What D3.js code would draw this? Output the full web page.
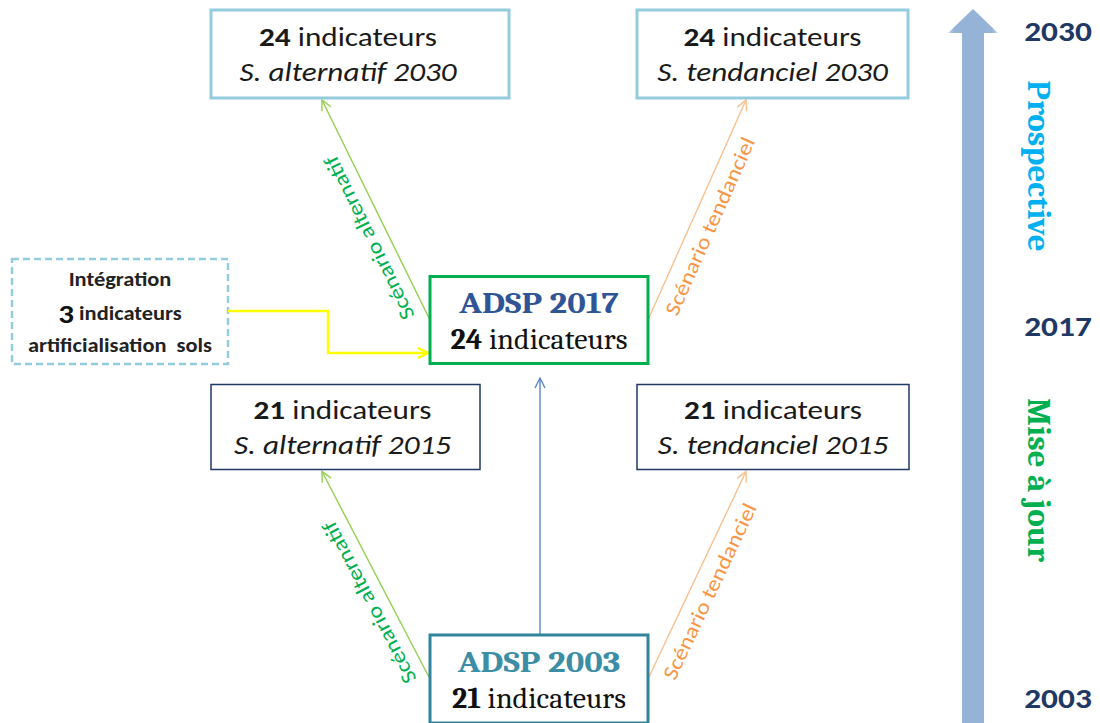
<!DOCTYPE html>
<html>
<head>
<meta charset="utf-8">
<script src="https://cdn.jsdelivr.net/npm/d3@7"></script>
<style>
  body { margin: 0; background: #fff; }
  svg { display: block; }
</style>
</head>
<body>
<div id="container"></div>
<script>
// values
const timelineYears = ["2030", "2017", "2003"]
const phaseLabels = ["Prospective", "Mise à jour"]
const scenarioLabels = ["Scénario alternatif", "Scénario tendanciel"]
const boxIds = ["alt2030", "tend2030", "adsp2017", "alt2015", "tend2015", "adsp2003"]
const boxCounts = [24, 24, 24, 21, 21, 21]
const boxNames = ["S. alternatif 2030", "S. tendanciel 2030", "ADSP 2017", "S. alternatif 2015", "S. tendanciel 2015", "ADSP 2003"]
const addedCount = 3
const addedLines = ["Intégration", "indicateurs", "artificialisation  sols"]

const w = 1100
const h = 723
const sans = "Carlito, Calibri, Lato, 'Open Sans', sans-serif"
const serif = "Cambria, 'Liberation Serif', 'DejaVu Serif', serif"
const stretch = 1.2 // Calibri in the picture runs wider than Lato

const svg = d3.select("#container")
    .append("svg")
    .attr("width", w)
    .attr("height", h)
    .style("background-color", "white")

// text placed at (x, y), optionally rotated, stretched horizontally
function label(parent, x, y, opts = {}) {
    const rot = opts.rotate ? ` rotate(${opts.rotate})` : ""
    const sx = opts.sx || 1
    return parent.append("text")
        .attr("transform", `translate(${x}, ${y})${rot} scale(${sx}, 1)`)
        .attr("text-anchor", "middle")
        .attr("dominant-baseline", "central")
        .style("font-family", opts.family || sans)
        .style("font-size", (opts.size || 20) + "px")
        .style("font-weight", opts.weight || "normal")
        .style("font-style", opts.style || "normal")
        .style("white-space", "pre")
        .attr("fill", opts.fill || "#1a1a1a")
}

// rows of the diagram (stage -> vertical centre)
const rowY = d3.scaleOrdinal()
    .domain(["2030", "2017", "2015", "2003"])
    .range([54, 320, 427, 679])

// layout of each box
const layout = {
    alt2030:  { x0: 211, x1: 509, row: "2030", hh: 44, stroke: "#93cddd", sw: 3, kind: "scen", dx: -12 },
    tend2030: { x0: 637, x1: 908, row: "2030", hh: 44, stroke: "#93cddd", sw: 3, kind: "scen", dx: 0 },
    adsp2017: { x0: 430, x1: 648, row: "2017", hh: 43.5, stroke: "#00b050", sw: 3, kind: "adsp", color: "#2f5597", dx: 0 },
    alt2015:  { x0: 211, x1: 480, row: "2015", hh: 42.5, stroke: "#1f3864", sw: 1.5, kind: "scen", dx: -3 },
    tend2015: { x0: 637, x1: 909, row: "2015", hh: 42.5, stroke: "#1f3864", sw: 1.5, kind: "scen", dx: 0 },
    adsp2003: { x0: 430, x1: 648, row: "2003", hh: 44, stroke: "#31849b", sw: 3, kind: "adsp", color: "#3b8ea5", dx: 0 },
}

const boxes = boxIds.map((id, i) => ({ id, count: boxCounts[i], name: boxNames[i], ...layout[id] }))
const byId = Object.fromEntries(boxes.map((b) => [b.id, b]))

// arrow markers
const defs = svg.append("defs")
const markerColors = { green: "#92d050", orange: "#fac08f", blue: "#5b87c5", yellow: "#ffff00" }
Object.entries(markerColors).forEach(([k, c]) => {
    defs.append("marker")
        .attr("id", "head-" + k)
        .attr("viewBox", "-12 -8 14 16")
        .attr("refX", 0)
        .attr("refY", 0)
        .attr("markerUnits", "userSpaceOnUse")
        .attr("markerWidth", 14)
        .attr("markerHeight", 16)
        .attr("orient", "auto")
        .append("path")
        .attr("d", "M-10,-5 L0,0 L-10,5")
        .attr("fill", "none")
        .attr("stroke", c)
        .attr("stroke-width", k === "yellow" ? 2.5 : 1.4)
})

const grad = defs.append("linearGradient")
    .attr("id", "timeGrad")
    .attr("x1", "0%").attr("x2", "100%")
    .attr("y1", "0%").attr("y2", "0%")
grad.append("stop").attr("offset", "0%").attr("stop-color", "#c9d9ee")
grad.append("stop").attr("offset", "12%").attr("stop-color", "#95b3d7")
grad.append("stop").attr("offset", "88%").attr("stop-color", "#95b3d7")
grad.append("stop").attr("offset", "100%").attr("stop-color", "#c9d9ee")

// timeline arrow on the right
const tx = 973
svg.append("path")
    .attr("d", `M${tx - 11},${h} L${tx - 11},33 L${tx - 25},33 L${tx},9 L${tx + 25},33 L${tx + 11},33 L${tx + 11},${h} Z`)
    .attr("fill", "url(#timeGrad)")

const yearY = d3.scaleOrdinal().domain(timelineYears).range([31, 326, 698])
timelineYears.forEach((d) => {
    label(svg, 1058, yearY(d), { size: 29, weight: "bold", fill: "#1f3864", sx: 1.15 }).text(d)
})

const phaseY = d3.scaleOrdinal().domain(phaseLabels).range([166, 480])
const phaseColor = d3.scaleOrdinal().domain(phaseLabels).range(["#00b0f0", "#00b050"])
phaseLabels.forEach((d) => {
    label(svg, 1039, phaseY(d), { rotate: 90, family: serif, size: 33, weight: "bold", fill: phaseColor(d) }).text(d)
})

// scenario arrows
const scenArrows = [
    { from: "adsp2017", side: "left", to: "alt2030", label: scenarioLabels[0], color: "green" },
    { from: "adsp2017", side: "right", to: "tend2030", label: scenarioLabels[1], color: "orange" },
    { from: "adsp2003", side: "left", to: "alt2015", label: scenarioLabels[0], color: "green" },
    { from: "adsp2003", side: "right", to: "tend2015", label: scenarioLabels[1], color: "orange" },
]
scenArrows.forEach((a) => {
    const src = byId[a.from]
    const dst = byId[a.to]
    const sy = rowY(src.row)
    const sx = a.side === "left" ? src.x0 : src.x1
    const ex = a.side === "left" ? 322 : 746
    const ey = rowY(dst.row) + dst.hh + 2
    svg.append("line")
        .attr("x1", sx).attr("y1", sy)
        .attr("x2", ex).attr("y2", ey)
        .attr("stroke", markerColors[a.color])
        .attr("stroke-width", 1.4)
        .attr("marker-end", `url(#head-${a.color})`)

    const dx = ex - sx
    const dy = ey - sy
    const len = Math.hypot(dx, dy)
    const ux = dx / len
    const uy = dy / len
    const t = a.side === "left" ? 0.41 : 0.46
    const off = a.side === "left" ? 19 : 18
    // perpendicular, pointing away from the central boxes
    const px = a.side === "left" ? uy : -uy
    const py = a.side === "left" ? -ux : ux
    const cx = sx + dx * t + px * off
    const cy = sy + dy * t + py * off
    const ang = Math.atan2(dy, dx) * 180 / Math.PI
    label(svg, cx, cy, {
        rotate: ang, size: 21, sx: 1.15,
        fill: a.color === "green" ? "#00b050" : "#f79646",
    }).text(a.label)
})

// update arrow 2003 -> 2017
svg.append("line")
    .attr("x1", 540).attr("y1", rowY("2003") - byId.adsp2003.hh)
    .attr("x2", 540).attr("y2", 378)
    .attr("stroke", markerColors.blue)
    .attr("stroke-width", 1.4)
    .attr("marker-end", "url(#head-blue)")

// integration box + yellow connector
const intBox = { x0: 12, x1: 228, y0: 259, y1: 364 }
svg.append("rect")
    .attr("x", intBox.x0).attr("y", intBox.y0)
    .attr("width", intBox.x1 - intBox.x0)
    .attr("height", intBox.y1 - intBox.y0)
    .attr("fill", "white")
    .attr("stroke", "#93cddd")
    .attr("stroke-width", 2.5)
    .attr("stroke-dasharray", "7,4")

svg.append("path")
    .attr("d", `M${intBox.x1},311 L328,311 L328,353 L${byId.adsp2017.x0 - 2},353`)
    .attr("fill", "none")
    .attr("stroke", markerColors.yellow)
    .attr("stroke-width", 2.5)
    .attr("marker-end", "url(#head-yellow)")

const intCx = (intBox.x0 + intBox.x1) / 2
label(svg, intCx, 280, { size: 19.5, weight: "bold", sx: 1.15, fill: "#222" }).text(addedLines[0])
const intMid = label(svg, intCx, 314, { size: 19.5, weight: "bold", sx: 1.15, fill: "#222" })
intMid.append("tspan").style("font-size", "27px").attr("fill", "#111").text(addedCount)
intMid.append("tspan").text(" " + addedLines[1])
label(svg, intCx, 346, { size: 19.5, weight: "bold", sx: 1.15, fill: "#222" }).text(addedLines[2])

// boxes
const g = svg.selectAll("g.box")
    .data(boxes)
    .enter()
    .append("g")
    .attr("class", "box")

g.append("rect")
    .attr("x", (d) => d.x0)
    .attr("y", (d) => rowY(d.row) - d.hh)
    .attr("width", (d) => d.x1 - d.x0)
    .attr("height", (d) => d.hh * 2)
    .attr("fill", "white")
    .attr("stroke", (d) => d.stroke)
    .attr("stroke-width", (d) => d.sw)

g.each(function (d) {
    const box = d3.select(this)
    const cx = (d.x0 + d.x1) / 2 + d.dx
    const cy = rowY(d.row)
    if (d.kind === "scen") {
        const l1 = label(box, cx, cy - 17, { size: 26, sx: stretch })
        l1.append("tspan").style("font-weight", "bold").text(d.count)
        l1.append("tspan").text(" indicateurs")
        label(box, cx, cy + 18, { size: 26, sx: stretch, style: "italic" }).text(d.name)
    } else {
        label(box, cx, cy - 17, { family: serif, size: 31, weight: "bold", sx: 1.12, fill: d.color }).text(d.name)
        const l2 = label(box, cx, cy + 19, { family: serif, size: 30, fill: "#111" })
        l2.append("tspan").style("font-weight", "bold").text(d.count)
        l2.append("tspan").text(" indicateurs")
    }
})
</script>
</body>
</html>
